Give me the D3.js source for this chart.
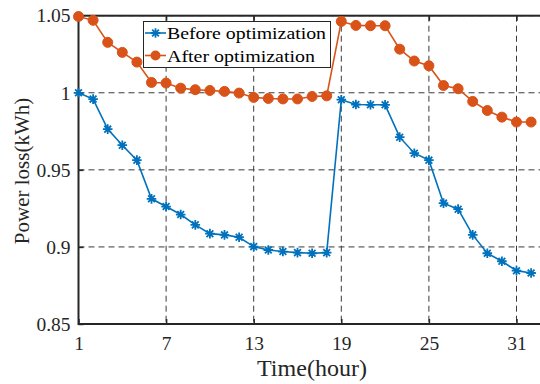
<!DOCTYPE html>
<html>
<head>
<meta charset="utf-8">
<script src="https://cdn.jsdelivr.net/npm/d3@7"></script>
<style>
  body { margin: 0; background: #fff; }
  svg { display: block; font-family: "Liberation Serif", "Times New Roman", serif; }
</style>
</head>
<body>
<svg id="chart" width="540" height="384"></svg>
<script>
// Hourly power loss before and after optimization
const hours = [1, 2, 3, 4, 5, 6, 7, 8, 9, 10, 11, 12, 13, 14, 15, 16,
               17, 18, 19, 20, 21, 22, 23, 24, 25, 26, 27, 28, 29, 30, 31, 32];
const beforeOpt = [1.0000, 0.9959, 0.9764, 0.9660, 0.9563, 0.9312, 0.9262, 0.9210,
                   0.9143, 0.9086, 0.9078, 0.9063, 0.9002, 0.8980, 0.8970, 0.8963,
                   0.8959, 0.8963, 0.9955, 0.9924, 0.9922, 0.9922, 0.9712, 0.9608,
                   0.9563, 0.9284, 0.9245, 0.9078, 0.8959, 0.8907, 0.8846, 0.8831];
const afterOpt = [1.0495, 1.0470, 1.0327, 1.0262, 1.0199, 1.0067, 1.0063, 1.0030,
                  1.0020, 1.0015, 1.0009, 0.9998, 0.9970, 0.9963, 0.9960, 0.9960,
                  0.9976, 0.9980, 1.0463, 1.0437, 1.0435, 1.0435, 1.0283, 1.0206,
                  1.0175, 1.0047, 1.0026, 0.9944, 0.9885, 0.9842, 0.9810, 0.9810];
const xTicks = [1, 7, 13, 19, 25, 31];
const yTicks = [0.85, 0.9, 0.95, 1, 1.05];
const yTickLabels = ["0.85", "0.9", "0.95", "1", "1.05"];
const seriesNames = ["Before optimization", "After optimization"];

const BLUE = "#0072BD", ORANGE = "#D95319", INK = "#262626";

const svg = d3.select("#chart");
const padL = 78.5, padT = 15.7, padB = 324;
const x = d3.scaleLinear().domain([1, 33]).range([padL, padL + 32 * 14.6]);
const y = d3.scaleLinear().domain([0.85, 1.05]).range([padB, padT]);
const padR = x(33);

// dashed grid
const grid = svg.append("g").attr("stroke", "#3a3a3a").attr("stroke-width", 1)
  .attr("stroke-dasharray", "6,4").attr("fill", "none");
grid.selectAll("line.v").data(xTicks).join("line").attr("class", "v")
  .attr("x1", d => x(d)).attr("x2", d => x(d)).attr("y1", padT).attr("y2", padB);
grid.selectAll("line.h").data(yTicks).join("line").attr("class", "h")
  .attr("x1", padL).attr("x2", padR).attr("y1", d => y(d)).attr("y2", d => y(d));

// axes with inward ticks
const xAxis = svg.append("g").attr("transform", `translate(0,${padB})`)
  .call(d3.axisBottom(x).tickValues(xTicks).tickSize(-5).tickPadding(12).tickFormat(d3.format("d")));
const xTop = svg.append("g").attr("transform", `translate(0,${padT})`)
  .call(d3.axisTop(x).tickValues(xTicks).tickSize(-5).tickFormat(""));
const yAxis = svg.append("g").attr("transform", `translate(${padL},0)`)
  .call(d3.axisLeft(y).tickValues(yTicks).tickSize(-5).tickPadding(8)
    .tickFormat((d, i) => yTickLabels[i]));
[xAxis, xTop, yAxis].forEach(g => {
  g.select(".domain").remove();
  g.selectAll(".tick line").attr("stroke", INK).attr("stroke-width", 1.5);
  g.selectAll(".tick text").attr("fill", INK).style("font-size", "19.5px")
    .style("font-family", "'Liberation Serif', 'Times New Roman', serif");
});

// frame
svg.append("rect").attr("x", padL).attr("y", padT)
  .attr("width", padR - padL).attr("height", padB - padT)
  .attr("fill", "none").attr("stroke", INK).attr("stroke-width", 2);

// asterisk marker path
function asterisk(cx, cy, r) {
  const d = r * 0.7071;
  return `M${cx - r},${cy}L${cx + r},${cy}M${cx},${cy - r}L${cx},${cy + r}` +
         `M${cx - d},${cy - d}L${cx + d},${cy + d}M${cx - d},${cy + d}L${cx + d},${cy - d}`;
}

const line = d3.line().x(d => x(d[0])).y(d => y(d[1]));
const beforePts = hours.map((h, i) => [h, beforeOpt[i]]);
const afterPts = hours.map((h, i) => [h, afterOpt[i]]);

svg.append("path").datum(beforePts).attr("d", line)
  .attr("fill", "none").attr("stroke", BLUE).attr("stroke-width", 1.6);
svg.append("g").selectAll("path").data(beforePts).join("path")
  .attr("d", d => asterisk(x(d[0]), y(d[1]), 4.8))
  .attr("stroke", BLUE).attr("stroke-width", 1.8).attr("fill", "none");

svg.append("path").datum(afterPts).attr("d", line)
  .attr("fill", "none").attr("stroke", ORANGE).attr("stroke-width", 1.6);
svg.append("g").selectAll("circle").data(afterPts).join("circle")
  .attr("cx", d => x(d[0])).attr("cy", d => y(d[1])).attr("r", 5)
  .attr("fill", ORANGE).attr("stroke", ORANGE).attr("stroke-width", 1);

// legend
const lg = svg.append("g");
lg.append("rect").attr("x", 143.5).attr("y", 21.5).attr("width", 187).attr("height", 46)
  .attr("fill", "#fff").attr("stroke", INK).attr("stroke-width", 1);
const rows = [
  { name: seriesNames[0], color: BLUE, mark: "star", yy: 33, w: 159 },
  { name: seriesNames[1], color: ORANGE, mark: "circle", yy: 55.5, w: 148 }
];
rows.forEach(r => {
  lg.append("line").attr("x1", 145).attr("x2", 166).attr("y1", r.yy).attr("y2", r.yy)
    .attr("stroke", r.color).attr("stroke-width", 1.6);
  if (r.mark === "star") {
    lg.append("path").attr("d", asterisk(155.5, r.yy, 4.8))
      .attr("stroke", r.color).attr("stroke-width", 1.8).attr("fill", "none");
  } else {
    lg.append("circle").attr("cx", 155.5).attr("cy", r.yy).attr("r", 5).attr("fill", r.color);
  }
  lg.append("text").attr("x", 167).attr("y", r.yy + 6).attr("fill", "#000")
    .attr("textLength", r.w).attr("lengthAdjust", "spacingAndGlyphs")
    .style("font-size", "17.5px").text(r.name);
});

// axis titles
svg.append("text").attr("x", 312).attr("y", 376).attr("text-anchor", "middle")
  .attr("textLength", 110).attr("lengthAdjust", "spacingAndGlyphs")
  .attr("fill", INK).style("font-size", "22.5px").text("Time(hour)");
svg.append("text").attr("transform", "translate(29,171) rotate(-90)")
  .attr("text-anchor", "middle").attr("fill", INK).style("font-size", "21px")
  .text("Power loss(kWh)");
</script>
</body>
</html>
